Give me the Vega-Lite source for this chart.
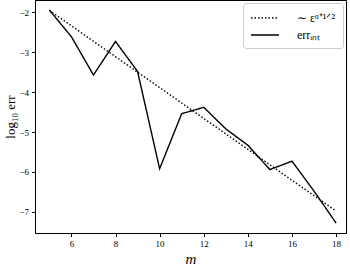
{
  "$schema": "https://vega.github.io/schema/vega-lite/v6.json",
  "width": 311,
  "height": 233,
  "autosize": {"type": "none"},
  "padding": {"left": 35, "top": 0, "right": 4, "bottom": 33},
  "background": "white",
  "config": {
    "view": {"stroke": "black", "strokeWidth": 1},
    "font": "Liberation Serif",
    "axis": {
      "grid": false,
      "domainColor": "black",
      "tickColor": "black",
      "labelColor": "black",
      "titleColor": "black",
      "labelFont": "Liberation Serif",
      "titleFont": "Liberation Serif",
      "labelFontSize": 9,
      "tickSize": 3.5,
      "titleFontWeight": "normal"
    }
  },
  "data": {
    "values": [
      {"m": 5, "v": -1.95, "s": "∼ εᵅ⁺¹ᐟ²"},
      {"m": 6, "v": -2.337, "s": "∼ εᵅ⁺¹ᐟ²"},
      {"m": 7, "v": -2.724, "s": "∼ εᵅ⁺¹ᐟ²"},
      {"m": 8, "v": -3.111, "s": "∼ εᵅ⁺¹ᐟ²"},
      {"m": 9, "v": -3.498, "s": "∼ εᵅ⁺¹ᐟ²"},
      {"m": 10, "v": -3.885, "s": "∼ εᵅ⁺¹ᐟ²"},
      {"m": 11, "v": -4.272, "s": "∼ εᵅ⁺¹ᐟ²"},
      {"m": 12, "v": -4.659, "s": "∼ εᵅ⁺¹ᐟ²"},
      {"m": 13, "v": -5.046, "s": "∼ εᵅ⁺¹ᐟ²"},
      {"m": 14, "v": -5.433, "s": "∼ εᵅ⁺¹ᐟ²"},
      {"m": 15, "v": -5.82, "s": "∼ εᵅ⁺¹ᐟ²"},
      {"m": 16, "v": -6.207, "s": "∼ εᵅ⁺¹ᐟ²"},
      {"m": 17, "v": -6.594, "s": "∼ εᵅ⁺¹ᐟ²"},
      {"m": 18, "v": -6.98, "s": "∼ εᵅ⁺¹ᐟ²"},
      {"m": 5, "v": -1.94, "s": "errᵢₙₜ"},
      {"m": 6, "v": -2.61, "s": "errᵢₙₜ"},
      {"m": 7, "v": -3.57, "s": "errᵢₙₜ"},
      {"m": 8, "v": -2.73, "s": "errᵢₙₜ"},
      {"m": 9, "v": -3.48, "s": "errᵢₙₜ"},
      {"m": 10, "v": -5.92, "s": "errᵢₙₜ"},
      {"m": 11, "v": -4.54, "s": "errᵢₙₜ"},
      {"m": 12, "v": -4.38, "s": "errᵢₙₜ"},
      {"m": 13, "v": -4.92, "s": "errᵢₙₜ"},
      {"m": 14, "v": -5.33, "s": "errᵢₙₜ"},
      {"m": 15, "v": -5.94, "s": "errᵢₙₜ"},
      {"m": 16, "v": -5.73, "s": "errᵢₙₜ"},
      {"m": 17, "v": -6.48, "s": "errᵢₙₜ"},
      {"m": 18, "v": -7.28, "s": "errᵢₙₜ"}
    ]
  },
  "mark": {"type": "line", "strokeWidth": 1.4, "color": "black"},
  "encoding": {
    "x": {
      "field": "m",
      "type": "quantitative",
      "scale": {"domain": [4.35, 18.45], "nice": false, "zero": false},
      "axis": {"values": [6, 8, 10, 12, 14, 16, 18], "title": "m", "titleFontStyle": "italic", "titleFontSize": 15, "labelPadding": 3, "titlePadding": 3}
    },
    "y": {
      "field": "v",
      "type": "quantitative",
      "scale": {"domain": [-7.53, -1.69], "nice": false, "zero": false},
      "axis": {"values": [-7, -6, -5, -4, -3, -2], "title": "log₁₀ err", "titleFontSize": 13, "labelPadding": 3, "titlePadding": 1}
    },
    "strokeDash": {
      "field": "s",
      "type": "nominal",
      "scale": {"domain": ["∼ εᵅ⁺¹ᐟ²", "errᵢₙₜ"], "range": [[1.5, 2], [1, 0]]},
      "legend": {
        "title": null,
        "orient": "top-right",
        "offset": 3,
        "padding": 7,
        "fillColor": "white",
        "strokeColor": "#cccccc",
        "cornerRadius": 3,
        "symbolType": "M-2,0H2",
        "symbolSize": 196,
        "symbolOffset": 7,
        "symbolFillColor": "transparent",
        "symbolStrokeColor": "black",
        "symbolStrokeWidth": 1.4,
        "labelFontSize": 12,
        "labelFont": "Liberation Serif",
        "labelColor": "black",
        "rowPadding": 3,
        "labelOffset": 24
      }
    }
  }
}
